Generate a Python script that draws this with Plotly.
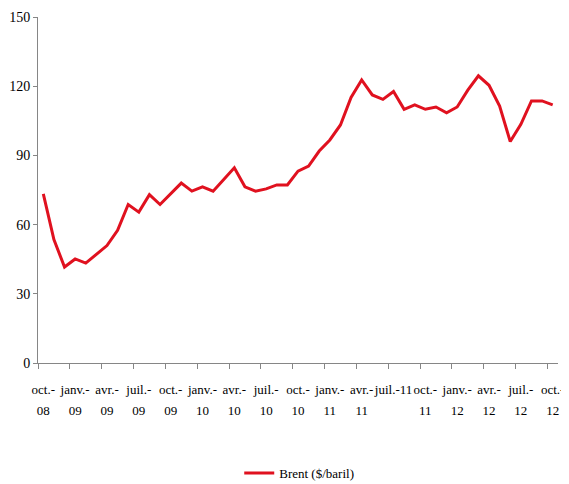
import plotly.graph_objects as go

# Monthly Brent price, Oct 2008 -> Oct 2012 ($/baril)
brent = [73.3, 53.5, 41.6, 45.1, 43.3, 47.0, 50.9, 57.5, 68.7, 65.4,
         73.0, 68.7, 73.5, 78.0, 74.5, 76.4, 74.5, 79.6, 84.6, 76.4,
         74.5, 75.5, 77.2, 77.2, 83.2, 85.4, 91.9, 96.7, 103.2, 115.1,
         122.7, 116.2, 114.3, 117.7, 110.0, 111.9, 110.0, 111.0, 108.5, 111.0,
         118.3, 124.5, 120.4, 111.4, 96.0, 103.5, 113.6, 113.6, 111.9]
months = list(range(len(brent)))

tick_line1 = ["oct.-", "janv.-", "avr.-", "juil.-", "oct.-", "janv.-", "avr.-", "juil.-", "oct.-",
              "janv.-", "avr.-", "juil.-11", "oct.-", "janv.-", "avr.-", "juil.-", "oct.-"]
tick_line2 = ["08", "09", "09", "09", "09", "10", "10", "10", "10",
              "11", "11", "", "11", "12", "12", "12", "12"]
tick_pos = months[::3]

y_ticks = [0, 30, 60, 90, 120, 150]

FONT = "Liberation Serif"
AXIS_COLOR = "#868686"
RED = "#E0111F"

fig = go.Figure()
fig.add_trace(go.Scatter(
    x=months, y=brent, mode="lines", name="Brent ($/baril)",
    line=dict(color=RED, width=3),
))
# invisible companion trace so the second (label-only) x axis is drawn
fig.add_trace(go.Scatter(
    x=months, y=brent, mode="lines", xaxis="x2", showlegend=False,
    line=dict(color="rgba(0,0,0,0)", width=0), hoverinfo="skip",
))

xr = [-0.5, len(brent) - 0.5]
# page body adds an 8px offset, so the figure is sized to fit the 569x484 window
fig.update_layout(
    width=561, height=476,
    margin=dict(l=30, r=11, t=9, b=121, autoexpand=False),
    paper_bgcolor="white", plot_bgcolor="white",
    font=dict(family=FONT, size=13, color="black"),
    showlegend=True,
    legend=dict(orientation="h", x=0.387, xanchor="left", y=-0.318, yanchor="middle",
                font=dict(family=FONT, size=13, color="black"), bgcolor="rgba(0,0,0,0)"),
    xaxis=dict(
        range=xr, showgrid=False, zeroline=False, automargin=False,
        showline=True, linecolor=AXIS_COLOR, linewidth=1,
        tickmode="array", tickvals=tick_pos, ticktext=tick_line1, tickangle=0,
        ticks="", ticklabelstandoff=14,
        tickfont=dict(family=FONT, size=13, color="black"),
        minor=dict(tickmode="linear", tick0=-0.5, dtick=3, ticks="outside",
                   ticklen=5, tickcolor=AXIS_COLOR, showgrid=False),
    ),
    xaxis2=dict(
        range=xr, overlaying="x", anchor="y", side="bottom", automargin=False,
        showgrid=False, zeroline=False, showline=False,
        tickmode="array", tickvals=tick_pos, ticktext=tick_line2, tickangle=0,
        ticks="", ticklabelstandoff=38,
        tickfont=dict(family=FONT, size=13, color="black"),
    ),
    yaxis=dict(
        range=[0, 150], showgrid=False, zeroline=False, automargin=False,
        showline=True, linecolor=AXIS_COLOR, linewidth=1,
        tickmode="array", tickvals=y_ticks,
        ticks="outside", ticklen=4, tickcolor=AXIS_COLOR,
        tickfont=dict(family=FONT, size=14, color="black"),
    ),
)

fig.write_html("out.html")
